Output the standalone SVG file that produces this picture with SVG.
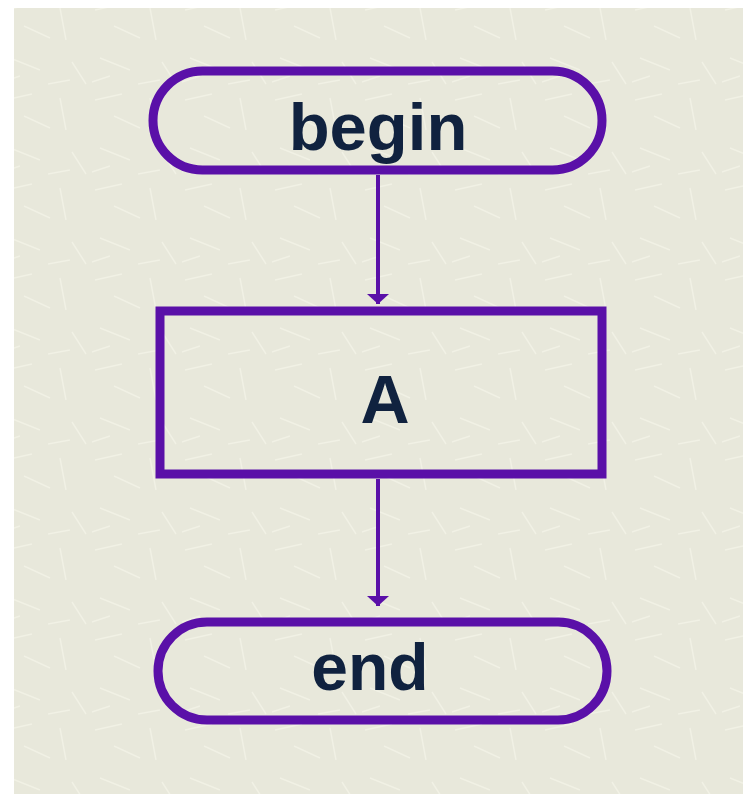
<svg xmlns="http://www.w3.org/2000/svg" width="743" height="794" viewBox="0 0 743 794">
<style>
.shape{fill:none;stroke:#5a10a8;stroke-width:9}
.lbl{font-family:"Liberation Sans",Arial,sans-serif;font-weight:bold;fill:#10223f;text-anchor:middle}
.conn{stroke:#5a10a8;stroke-width:4;fill:none}
</style>
<defs>
<marker id="arr" markerUnits="userSpaceOnUse" markerWidth="12" markerHeight="24" refX="11" refY="12" orient="auto" viewBox="0 0 12 24">
<path d="M1,1 L11,12 L1,23 Z" fill="#5a10a8"/>
</marker>
<pattern id="tex" width="90" height="90" patternUnits="userSpaceOnUse">
<rect width="90" height="90" fill="#e8e8db"/>
<path d="M5,10 L32,4 M60,8 L66,40 M10,58 L40,70 M72,62 L86,84 M24,26 L50,38 M2,82 L20,76 M48,84 L70,80" stroke="#f1f1e5" stroke-width="1.5"/>
</pattern>
</defs>
<rect x="0" y="0" width="743" height="794" fill="#ffffff"/>
<rect x="14" y="8" width="729" height="786" fill="url(#tex)"/>
<g id="connectors">
<line class="conn" x1="378" y1="175" x2="378" y2="304" marker-end="url(#arr)"/>
<line class="conn" x1="378" y1="479" x2="378" y2="606" marker-end="url(#arr)"/>
</g>
<g id="begin">
<rect class="shape" x="153" y="71" width="449" height="99" rx="49.5"/>
<text class="lbl" x="378" y="150" font-size="67">begin</text>
</g>
<g id="A">
<rect class="shape" x="160" y="311" width="442" height="163"/>
<text class="lbl" x="385" y="423" font-size="68">A</text>
</g>
<g id="end">
<rect class="shape" x="158" y="622" width="449" height="98" rx="49"/>
<text class="lbl" x="370" y="690" font-size="66">end</text>
</g>
</svg>
